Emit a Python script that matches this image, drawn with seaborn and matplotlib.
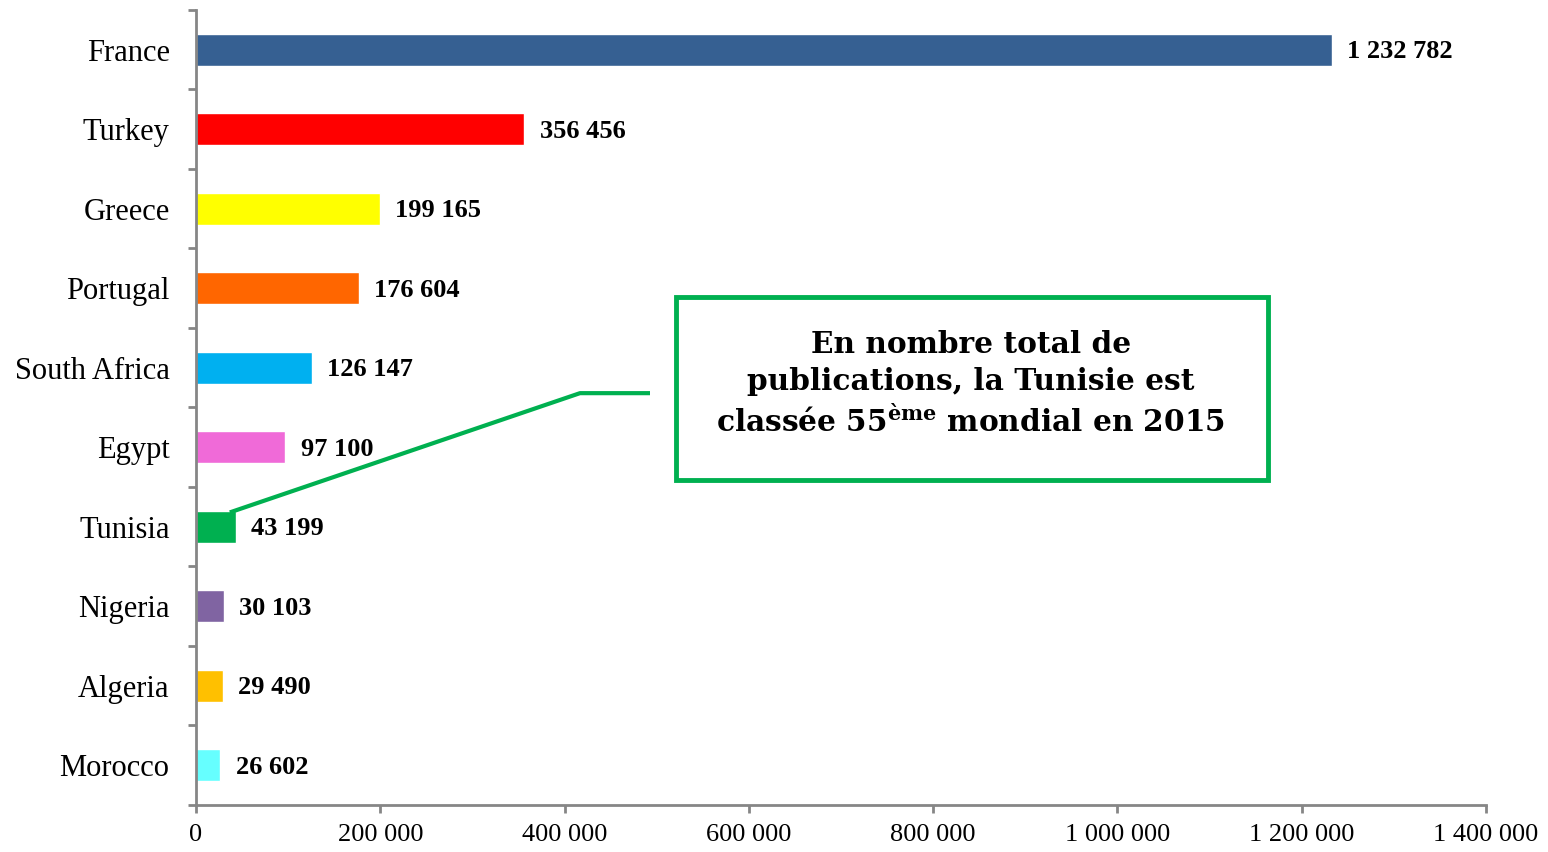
import matplotlib

matplotlib.use("Agg")
import matplotlib.pyplot as plt
import matplotlib.patches as mpatches
import seaborn as sns
import pandas as pd
import numpy as np

# --- Données ---
countries = ["France", "Turkey", "Greece", "Portugal", "South Africa",
             "Egypt", "Tunisia", "Nigeria", "Algeria", "Morocco"]
publications = [1232782, 356456, 199165, 176604, 126147,
                97100, 43199, 30103, 29490, 26602]
bar_colors = ["#366092", "#FF0000", "#FFFF00", "#FF6600", "#00B0F0",
              "#F06AD8", "#00B050", "#8064A2", "#FFC000", "#66FFFF"]
x_ticks = [0, 200000, 400000, 600000, 800000, 1000000, 1200000, 1400000]

callout_text = ("En nombre total de\n"
                "publications, la Tunisie est\n"
                "classée 55$^{\\rm ème}$ mondial en 2015")

AXIS_GREY = "#868686"
GREEN = "#00B050"


def fmt(v):
    return f"{int(round(v)):,}".replace(",", " ")


sns.set_style("ticks")
plt.rcParams["font.family"] = ["Liberation Serif", "DejaVu Serif"]
plt.rcParams["text.color"] = "black"
plt.rcParams["xtick.color"] = AXIS_GREY
plt.rcParams["ytick.color"] = AXIS_GREY
plt.rcParams["xtick.labelcolor"] = "black"
plt.rcParams["ytick.labelcolor"] = "black"
plt.rcParams["mathtext.fontset"] = "custom"
plt.rcParams["mathtext.rm"] = "DejaVu Serif:bold"
plt.rcParams["mathtext.bf"] = "DejaVu Serif:bold"
plt.rcParams["mathtext.it"] = "DejaVu Serif:bold"

df = pd.DataFrame({"pays": countries, "pubs": publications})

fig = plt.figure(figsize=(15.48, 8.52), dpi=100)
ax = fig.add_axes([0.1266, 0.0552, 0.96 - 0.1266, 0.9883 - 0.0552])

sns.barplot(data=df, x="pubs", y="pays", hue="pays", palette=bar_colors,
            orient="h", width=0.4, legend=False, saturation=1, ax=ax)

# Étiquettes de valeurs (un peu sous le centre, comme l'original)
for cont in ax.containers:
    for b in cont:
        ax.annotate(fmt(b.get_width()),
                    xy=(b.get_width(), b.get_y() + b.get_height() / 2),
                    xytext=(11, -1.5), textcoords="offset points",
                    ha="left", va="center", fontsize=19,
                    fontweight="bold", color="black")

ax.set_xlim(0, 1400000)
ax.set_ylim(len(countries) - 0.5, -0.5)
ax.set_xticks(x_ticks)
ax.set_xticklabels([fmt(t) for t in x_ticks], fontsize=19)
ax.set_yticks(range(len(countries)))
ax.set_yticklabels(countries, fontsize=22)
ax.set_yticks(np.arange(-0.5, len(countries)), minor=True)
ax.tick_params(axis="y", which="major", left=True, length=0, pad=19)
ax.tick_params(axis="y", which="minor", left=True, length=6, width=2,
               color=AXIS_GREY, direction="out")
ax.tick_params(axis="x", bottom=True, length=6, width=2, color=AXIS_GREY,
               direction="out", pad=8)
ax.set_xlabel("")
ax.set_ylabel("")

for side in ["top", "right"]:
    ax.spines[side].set_visible(False)
for side in ["left", "bottom"]:
    ax.spines[side].set_color(AXIS_GREY)
    ax.spines[side].set_linewidth(2)

# --- Ligne de rappel vers la Tunisie ---
tun = countries.index("Tunisia")
tun_val = publications[tun]
ax.plot([tun_val * 0.85, 416700, 492700], [tun - 0.18, tun - 1.68, tun - 1.68],
        color=GREEN, lw=3, solid_capstyle="butt", zorder=5)

# --- Encadré ---
box = mpatches.Rectangle((0.4367, 0.4366), 0.8191 - 0.4367, 0.6514 - 0.4366,
                         transform=fig.transFigure, fill=False,
                         edgecolor=GREEN, linewidth=3.5)
fig.add_artist(box)
fig.text(0.627, 0.549, callout_text, ha="center", va="center",
         family="DejaVu Serif", fontweight="bold", fontsize=21.3,
         linespacing=1.34, color="black")

fig.savefig("out.png", dpi=100)
plt.close(fig)
